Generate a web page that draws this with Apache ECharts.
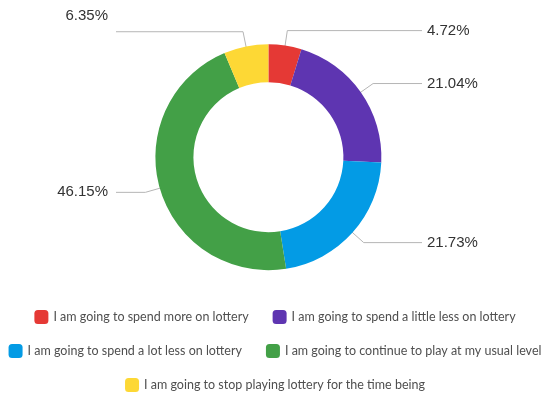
<!DOCTYPE html>
<html>
<head>
<meta charset="utf-8">
<script src="https://cdn.jsdelivr.net/npm/echarts@6/dist/echarts.min.js"></script>
<style>
  html, body { margin: 0; padding: 0; background: #fff; }
  #chart { width: 550px; height: 393px; }
</style>
</head>
<body>
<div id="chart"></div>
<script>
// Survey answers and their share of respondents (%)
const categories = [
  'I am going to spend more on lottery',
  'I am going to spend a little less on lottery',
  'I am going to spend a lot less on lottery',
  'I am going to continue to play at my usual level',
  'I am going to stop playing lottery for the time being'
];
const shares = [4.72, 21.04, 21.73, 46.15, 6.35];
const colors = ['#e53935', '#5e35b1', '#039be5', '#43a047', '#fdd835'];

// legend rows: indexes into categories
const legendRows = [[0, 1], [2, 3], [4]];

const chart = echarts.init(document.getElementById('chart'), null, { renderer: 'canvas' });
const center = ['48.8%', '40%'];
const rightColumn = 422, leftColumn = 116;

const ringData = categories.map((name, i) => ({ name, value: shares[i], itemStyle: { color: colors[i] } }));
const labelData = categories.map((name, i) => ({ name, value: shares[i] }));

chart.setOption({
  animation: false,
  legend: legendRows.map((idx, row) => ({
    data: idx.map(i => categories[i]),
    left: 'center',
    top: 310 + row * 34,
    width: 600,
    padding: [0, 0, 0, 8],
    itemWidth: 14,
    itemHeight: 14,
    itemGap: 24,
    icon: 'roundRect',
    textStyle: { fontFamily: 'Lato', fontSize: 12.5, color: '#4f4f4f' }
  })),
  series: [
    {
      // coloured ring
      type: 'pie',
      center,
      radius: [75, 113],
      startAngle: 90,
      clockwise: true,
      label: { show: false },
      labelLine: { show: false },
      data: ringData
    },
    {
      // transparent twin that carries the percentage labels; its leader
      // lines start from the middle of the ring
      type: 'pie',
      center,
      radius: [0, 96],
      startAngle: 90,
      clockwise: true,
      silent: true,
      avoidLabelOverlap: false,
      itemStyle: { color: 'transparent' },
      label: {
        show: true,
        formatter: p => p.value.toFixed(2) + '%',
        fontFamily: 'Liberation Sans',
        fontSize: 15,
        color: '#333'
      },
      labelLine: {
        show: true,
        length: 32,
        length2: 10,
        lineStyle: { color: '#b5b5b5', width: 1 }
      },
      labelLayout: p => {
        const pts = p.labelLinePoints;
        if (!pts) return {};
        const right = p.align !== 'right';
        const endX = right ? rightColumn : leftColumn;
        // the small top-left slice has its text raised above the leader line
        const lift = p.dataIndex === 4 ? 16 : 0;
        return {
          x: right ? endX + 5 : endX - 8,
          y: pts[1][1] - lift,
          align: right ? 'left' : 'right',
          verticalAlign: 'middle',
          labelLinePoints: [pts[0], pts[1], [endX, pts[1][1]]]
        };
      },
      data: labelData
    }
  ]
});
</script>
</body>
</html>
